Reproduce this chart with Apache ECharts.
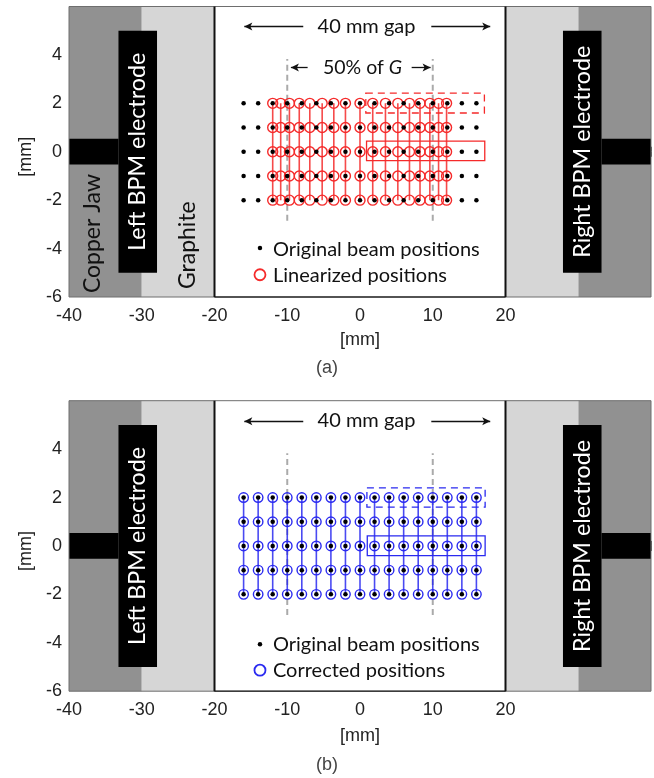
<!DOCTYPE html>
<html><head><meta charset="utf-8">
<style>html,body{margin:0;padding:0;background:#fff}#c{width:654px;height:778px}</style>
<script src="https://cdn.jsdelivr.net/npm/echarts@6/dist/echarts.min.js"></script>
</head><body><div id="c"></div>
<script>
const xTickLabels = [-40,-30,-20,-10,0,10,20,30];
const yTickLabels = [-6,-4,-2,0,2,4];
const rowsMm = [2,1,0,-1,-2];
const originalXs = [-16,-14,-12,-10,-8,-6,-4,-2,0,2,4,6,8,10,12,14,16];
const linearizedXs = [-12,-10.9,-9.7,-8.35,-6.9,-5.2,-3.6,-2,0,1.75,3.5,5.2,6.8,8.25,9.6,10.8,11.9];
const correctedXs = originalXs;
const copperSpans = [[-40,-30,-6,6],[30,40,-6,6]];
const graphiteSpans = [[-30,-20,-6,6],[20,30,-6,6]];
const electrodeSpans = [[-33.2,-27.9,-5,5],[-40,-33.2,-0.53,0.54],[27.9,33.2,-5,5],[33.2,40,-0.53,0.54]];
const boxA = {dashed:[0.8,17.1,1.6,2.42], solid:[0.9,17.15,-0.37,0.44]};
const boxB = {dashed:[0.95,17.2,1.6,2.4], solid:[1,17.2,-0.4,0.42]};

const ANNO = 'Lato, "Open Sans", sans-serif';
const AXF = '"Liberation Sans", Arial, sans-serif';

function rectSeries(g, spans, style, z){
  return {type:'custom',xAxisIndex:g,yAxisIndex:g,z:z,silent:true,clip:false,data:spans,
    encode:{x:[0,1],y:[2,3]},
    renderItem(p,api){
      const a=api.coord([api.value(0),api.value(3)]), b=api.coord([api.value(1),api.value(2)]);
      return {type:'rect',shape:{x:a[0],y:a[1],width:b[0]-a[0],height:b[1]-a[1]},style:Object.assign({},style)};
    }};
}
function textSeries(g, items){
  return {type:'custom',xAxisIndex:g,yAxisIndex:g,z:8,silent:true,clip:false,data:items.map(t=>[t.x,t.y]),
    renderItem(p,api){
      const t=items[p.dataIndex], c=api.coord([t.x,t.y]), sz=t.size||20;
      return {type:'text',x:c[0],y:c[1],rotation:t.rot?Math.PI/2:0,
        style:{text:t.text,fill:t.fill||'#111',font:sz+'px '+ANNO,
          align:t.align||'center',verticalAlign:'middle',
          rich:{i:{font:'italic '+sz+'px '+ANNO,fill:t.fill||'#111'}}}};
    }};
}
function arrowSeries(g, segs){
  return {type:'line',xAxisIndex:g,yAxisIndex:g,z:7,silent:true,data:[],
    markLine:{silent:true,animation:false,symbol:['none','arrow'],symbolSize:[6,8],precision:4,
      label:{show:false},lineStyle:{color:'#111',width:1.3,type:'solid'},
      data:segs.map(s=>[{coord:[s[0],s[1]]},{coord:[s[2],s[3]]}])}};
}
function vline(g,x,y0,y1,color,width,dash,op,z){
  return {type:'line',xAxisIndex:g,yAxisIndex:g,z:z,silent:true,showSymbol:false,symbol:'none',
    data:[[x,y0],[x,y1]],lineStyle:{color:color,width:width,type:dash||'solid',opacity:op==null?1:op}};
}
function product(xs){const o=[];rowsMm.forEach(y=>xs.forEach(x=>o.push([x,y])));return o;}
function dots(g,pts){return {type:'scatter',xAxisIndex:g,yAxisIndex:g,z:6,silent:true,data:pts,symbol:'circle',symbolSize:4.5,itemStyle:{color:'#000',opacity:1}};}
function rings(g,pts,c,size,w){return {type:'scatter',xAxisIndex:g,yAxisIndex:g,z:5,silent:true,data:pts,symbol:'circle',symbolSize:size,itemStyle:{color:'rgba(0,0,0,0)',borderColor:c,borderWidth:w,opacity:1}};}

function panel(g,opts){
  const c=opts.color, s=[];
  s.push(rectSeries(g,copperSpans,{fill:'#919191'},1));
  s.push(rectSeries(g,graphiteSpans,{fill:'#d6d6d6'},1));
  s.push(rectSeries(g,electrodeSpans,{fill:'#000'},2));
  s.push(rectSeries(g,[[-40,40,-6,6]],{fill:'none',stroke:'#6e6e6e',lineWidth:1},3));
  s.push(rectSeries(g,[[-20,20,-6,-6]],{fill:'none',stroke:'#333',lineWidth:1},3));
  s.push(vline(g,-20,-6,6,'#111',2,null,1,3));
  s.push(vline(g,20,-6,6,'#111',2,null,1,3));
  s.push(vline(g,-10,-2.85,3.83,'#aaa',2,[6,4],1,3));
  s.push(vline(g,10,-2.85,3.83,'#aaa',2,[6,4],1,3));
  opts.xs.forEach(x=>s.push(vline(g,x,2,-2,c,1.6,null,0.85,4)));
  s.push(rings(g,product(opts.xs),c,opts.size,1.4));
  s.push(dots(g,product(originalXs)));
  s.push(rectSeries(g,[opts.box.solid],{fill:'none',stroke:c,lineWidth:1.3},5));
  s.push(rectSeries(g,[opts.box.dashed],{fill:'none',stroke:c,lineWidth:1.3,lineDash:[7,5]},5));
  s.push(dots(g,[[opts.legX,opts.legY[0]]]));
  s.push(rings(g,[[opts.legX,opts.legY[1]]],c,11,1.8));
  s.push(arrowSeries(g,opts.arrows));
  s.push(textSeries(g,opts.texts));
  return s;
}
const common=g=>[
 {text:'40 mm gap',x:0.9,y:5.17},
 {text:'Left BPM electrode',x:-30.55,y:0,rot:1,fill:'#fff',size:23.3},
 {text:'Right BPM electrode',x:30.55,y:0,rot:1,fill:'#fff',size:23.3}
];
const seriesA=panel(0,{color:'#f52a2a',xs:linearizedXs,size:10,box:boxA,legX:-13.75,legY:[-3.98,-5.08],
  arrows:[[-7.8,5.17,-15.9,5.17],[9.8,5.17,17.9,5.17],[-7.2,3.48,-9.5,3.48],[7.1,3.48,9.7,3.48]],
  texts:common(0).concat([
    {text:'50% of {i|G}',x:0.35,y:3.48,size:19.5},
    {text:'Original beam positions',x:-11.97,y:-4.02,align:'left'},
    {text:'Linearized positions',x:-11.97,y:-5.1,align:'left'},
    {text:'Copper Jaw',x:-36.7,y:-3.38,rot:1,size:23},
    {text:'Graphite',x:-23.7,y:-3.86,rot:1,size:23}
  ])});
const seriesB=panel(1,{color:'#2a2af0',xs:correctedXs,size:9.5,box:boxB,legX:-13.75,legY:[-4.06,-5.13],
  arrows:[[-7.8,5.15,-15.9,5.15],[9.8,5.15,17.9,5.15]],
  texts:common(1).concat([
    {text:'Original beam positions',x:-11.97,y:-4.08,align:'left'},
    {text:'Corrected positions',x:-11.97,y:-5.15,align:'left'}
  ])});
const L={color:'#222',fontFamily:AXF,fontSize:18};
const xA=(i,gap)=>({type:'value',gridIndex:i,min:-40,max:40,interval:10,splitLine:{show:false},
  axisLine:{show:false},axisTick:{show:true,inside:true,length:5,lineStyle:{color:'#555'}},
  axisLabel:Object.assign({},L,{customValues:xTickLabels,margin:10,showMaxLabel:false}),
  name:'[mm]',nameLocation:'middle',nameGap:gap,nameTextStyle:L});
const xTop=i=>({type:'value',gridIndex:i,position:'top',min:-40,max:40,interval:10,splitLine:{show:false},
  axisLine:{show:false},axisTick:{show:true,inside:true,length:5,lineStyle:{color:'#555'}},axisLabel:{show:false}});
const yA=i=>({type:'value',gridIndex:i,min:-6,max:6,interval:2,splitLine:{show:false},
  axisLine:{show:false},axisTick:{show:false},
  axisLabel:Object.assign({},L,{customValues:yTickLabels,margin:7}),
  name:'[mm]',nameLocation:'middle',nameGap:34,nameRotate:90,nameTextStyle:Object.assign({},L,{padding:[0,0,0,-10]})});
const chart=echarts.init(document.getElementById('c'),null,{renderer:'canvas'});
chart.setOption({
  animation:false,backgroundColor:'#fff',
  title:[
    {text:'(a)',left:'center',top:359,textStyle:{color:'#444',fontFamily:AXF,fontSize:18,fontWeight:'normal'},padding:0},
    {text:'(b)',left:'center',top:756,textStyle:{color:'#444',fontFamily:AXF,fontSize:18,fontWeight:'normal'},padding:0}
  ],
  grid:[{left:69,top:6.5,width:582,height:290.5},{left:69,top:400.7,width:582,height:290.5},
        {left:69,top:6.5,width:582,height:290.5},{left:69,top:400.7,width:582,height:290.5}],
  xAxis:[xA(0,34),xA(1,36),xTop(2),xTop(3)],
  yAxis:[yA(0),yA(1),
    {type:'value',gridIndex:2,min:-6,max:6,show:false},{type:'value',gridIndex:3,min:-6,max:6,show:false}],
  series:seriesA.concat(seriesB)
});
</script></body></html>
